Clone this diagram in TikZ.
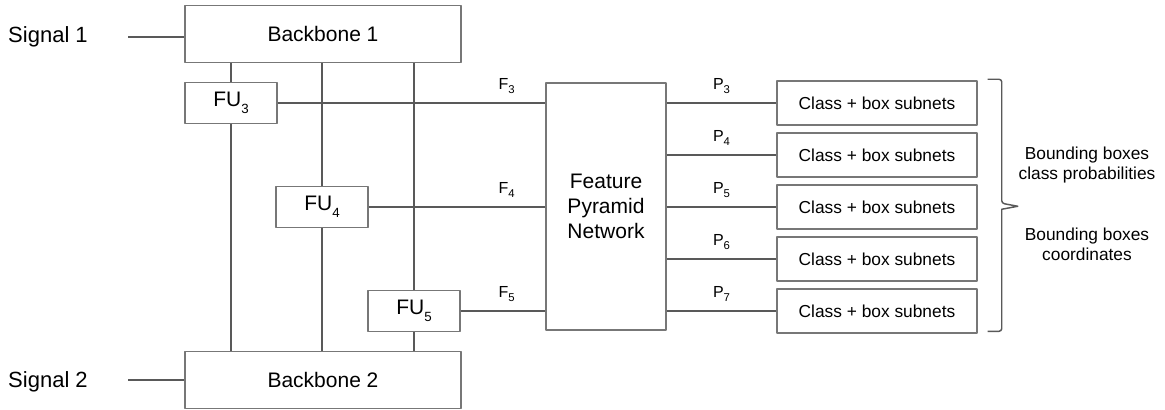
\documentclass[tikz,border=0pt]{standalone}
\usepackage{fontspec}
\setmainfont{Liberation Sans}
\definecolor{linegray}{HTML}{595959}
\definecolor{boxgray}{HTML}{777777}
\newcommand{\fuidx}[1]{\raisebox{-5pt}{\fontsize{10}{10}\selectfont #1}}
\newcommand{\lblidx}[1]{\raisebox{-3.5pt}{\fontsize{8.5}{8.5}\selectfont #1}}
\begin{document}
\begin{tikzpicture}[x=0.75pt,y=-0.75pt,line join=round,
	box/.style={draw=boxgray,line width=1.1pt,fill=white,inner sep=0pt,font=\fontsize{15.75}{19}\selectfont},
	wire/.style={draw=linegray,line width=1.6pt},
	lbl/.style={inner sep=1pt,font=\fontsize{12}{12}\selectfont},
	side/.style={font=\fontsize{13}{15}\selectfont,align=center}]
	\useasboundingbox (0,0) rectangle (1165,410);
	% backbones and fusion units
	\node[box,minimum width=207pt,minimum height=43pt] (BB_1) at (323,34) {Backbone 1};
	\node[box,minimum width=207pt,minimum height=43pt] (BB_2) at (323,380) {Backbone 2};
	\node[box,minimum width=69pt,minimum height=30.75pt] (FU_3) at (231,103) {FU\fuidx{3}};
	\node[box,minimum width=69pt,minimum height=30.75pt] (FU_4) at (322,207) {FU\fuidx{4}};
	\node[box,minimum width=69pt,minimum height=30.75pt] (FU_5) at (414,311) {FU\fuidx{5}};
	\node[box,minimum width=90pt,minimum height=185pt,align=center] (FPN) at (606,206.5) {Feature\\Pyramid\\Network};
	\foreach \i in {3,...,7}
	\node[box,minimum width=150pt,minimum height=33pt,font=\fontsize{13}{15}\selectfont] (CB_\i) at (877,{103+52*(\i-3)}) {Class + box subnets};
	% inputs
	\node[font=\fontsize{16.5}{19}\selectfont] (S_1) at (48,37) {Signal 1};
	\node[font=\fontsize{16.5}{19}\selectfont] (S_2) at (48,382) {Signal 2};
	\path (128,37) coordinate (S_1e) (128,380) coordinate (S_2e);
	\draw[wire]
	(S_1e)--(S_1e -| BB_1.west)
	(S_2e)--(S_2e -| BB_2.west)
	;
	\foreach \k in {3,4,5}{
		\draw[wire] (BB_1.south -| FU_\k)--(FU_\k.north) (FU_\k.south)--(FU_\k.south |- BB_2.north);
		\draw[wire] (FU_\k.east)--(FU_\k.east -| FPN.west) node[lbl,anchor=south,xshift=-29pt,yshift=5pt] (F_\k) {F\lblidx{\k}};
	}
	\foreach \i in {3,...,7}
	\draw[wire] (CB_\i.west -| FPN.east)--node[lbl,anchor=south,yshift=5pt] (P_\i) {P\lblidx{\i}} (CB_\i.west);
	% outputs
	\path ([xshift=7.5pt,yshift=0.75pt]CB_3.north east) coordinate (BR_t);
	\draw[linegray,line width=1.1pt,rounded corners=2pt]
	(BR_t)--++(14,0)--++(0,124)[sharp corners]--++(16,3)--++(-16,3)[rounded corners=2pt]--++(0,122)--++(-14,0)
	;
	\node[side] (T_1) at (1087,165) {Bounding boxes\\class probabilities};
	\node[side] (T_2) at (1087,244) {Bounding boxes\\coordinates};
\end{tikzpicture}
\end{document}
